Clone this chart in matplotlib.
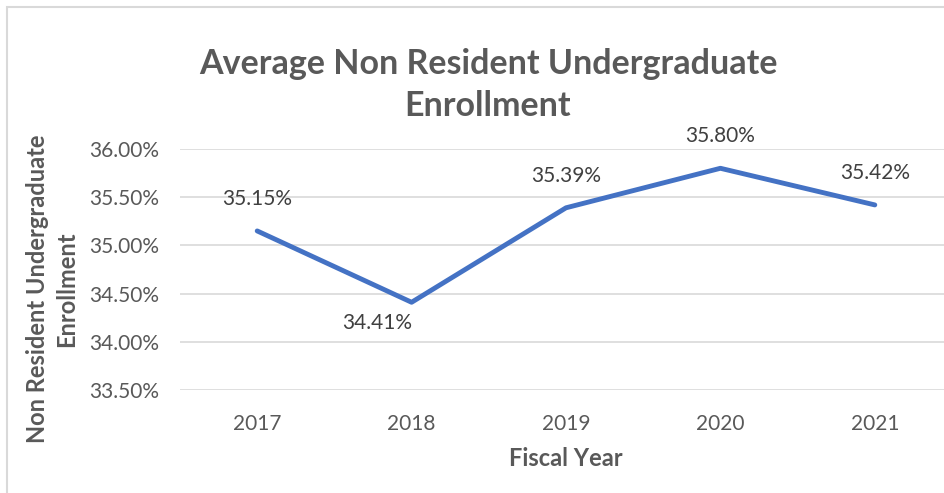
import matplotlib
matplotlib.use("Agg")
import matplotlib.pyplot as plt
from matplotlib.patches import Rectangle

years = ["2017", "2018", "2019", "2020", "2021"]
values = [35.15, 34.41, 35.39, 35.80, 35.42]
yticks = [33.5, 34.0, 34.5, 35.0, 35.5, 36.0]

plt.rcParams["font.family"] = ["Lato", "DejaVu Sans"]
grey = "#595959"

fig = plt.figure(figsize=(9.45, 4.93), dpi=100)
W, H = 945, 493

# chart border (light grey frame, cropped on right/bottom)
fig.patches.append(Rectangle((7 / W, -0.05), 1.05, 1 - 7 / H + 0.05,
                             transform=fig.transFigure, fill=False,
                             edgecolor="#D9D9D9", linewidth=1.5))

ax = fig.add_axes([180 / W, 1 - 390 / H, 772 / W, 241 / H])
x = list(range(len(years)))
ax.plot(x, values, color="#4472C4", linewidth=3.5, solid_capstyle="round")

ax.set_xlim(-0.5, 4.5)
ax.set_ylim(33.5, 36.0)
ax.set_yticks(yticks)
ax.set_yticklabels([f"{v:.2f}%" for v in yticks])
ax.set_xticks(x)
ax.set_xticklabels(years)
ax.tick_params(length=0, labelsize=15, colors=grey)
ax.tick_params(axis="y", pad=15)
ax.tick_params(axis="x", pad=17)
ax.grid(axis="y", color="#D9D9D9", linewidth=1.2)
ax.set_axisbelow(True)
for s in ax.spines.values():
    s.set_visible(False)

# data labels
offsets = [(0, 23), (-25, -15), (0, 23), (0, 23), (0, 23)]
for xi, v, (dx, dy) in zip(x, values, offsets):
    ax.annotate(f"{v:.2f}%", (xi, v), xytext=(dx, dy), textcoords="offset points",
                ha="center", va="center", fontsize=15, color="#404040")

ax.set_xlabel("Fiscal Year", fontsize=17, fontweight="bold", color=grey, labelpad=10)
fig.text(52 / W, 1 - 289 / H, "Non Resident Undergraduate\nEnrollment", rotation=90,
         ha="center", va="center", fontsize=17, fontweight="bold", color=grey,
         linespacing=1.3)

fig.text(488 / W, 1 - 85 / H, "Average Non Resident Undergraduate\nEnrollment",
         ha="center", va="center", fontsize=24.5, fontweight="bold", color=grey,
         linespacing=1.4)

fig.savefig("out.png", dpi=100)
